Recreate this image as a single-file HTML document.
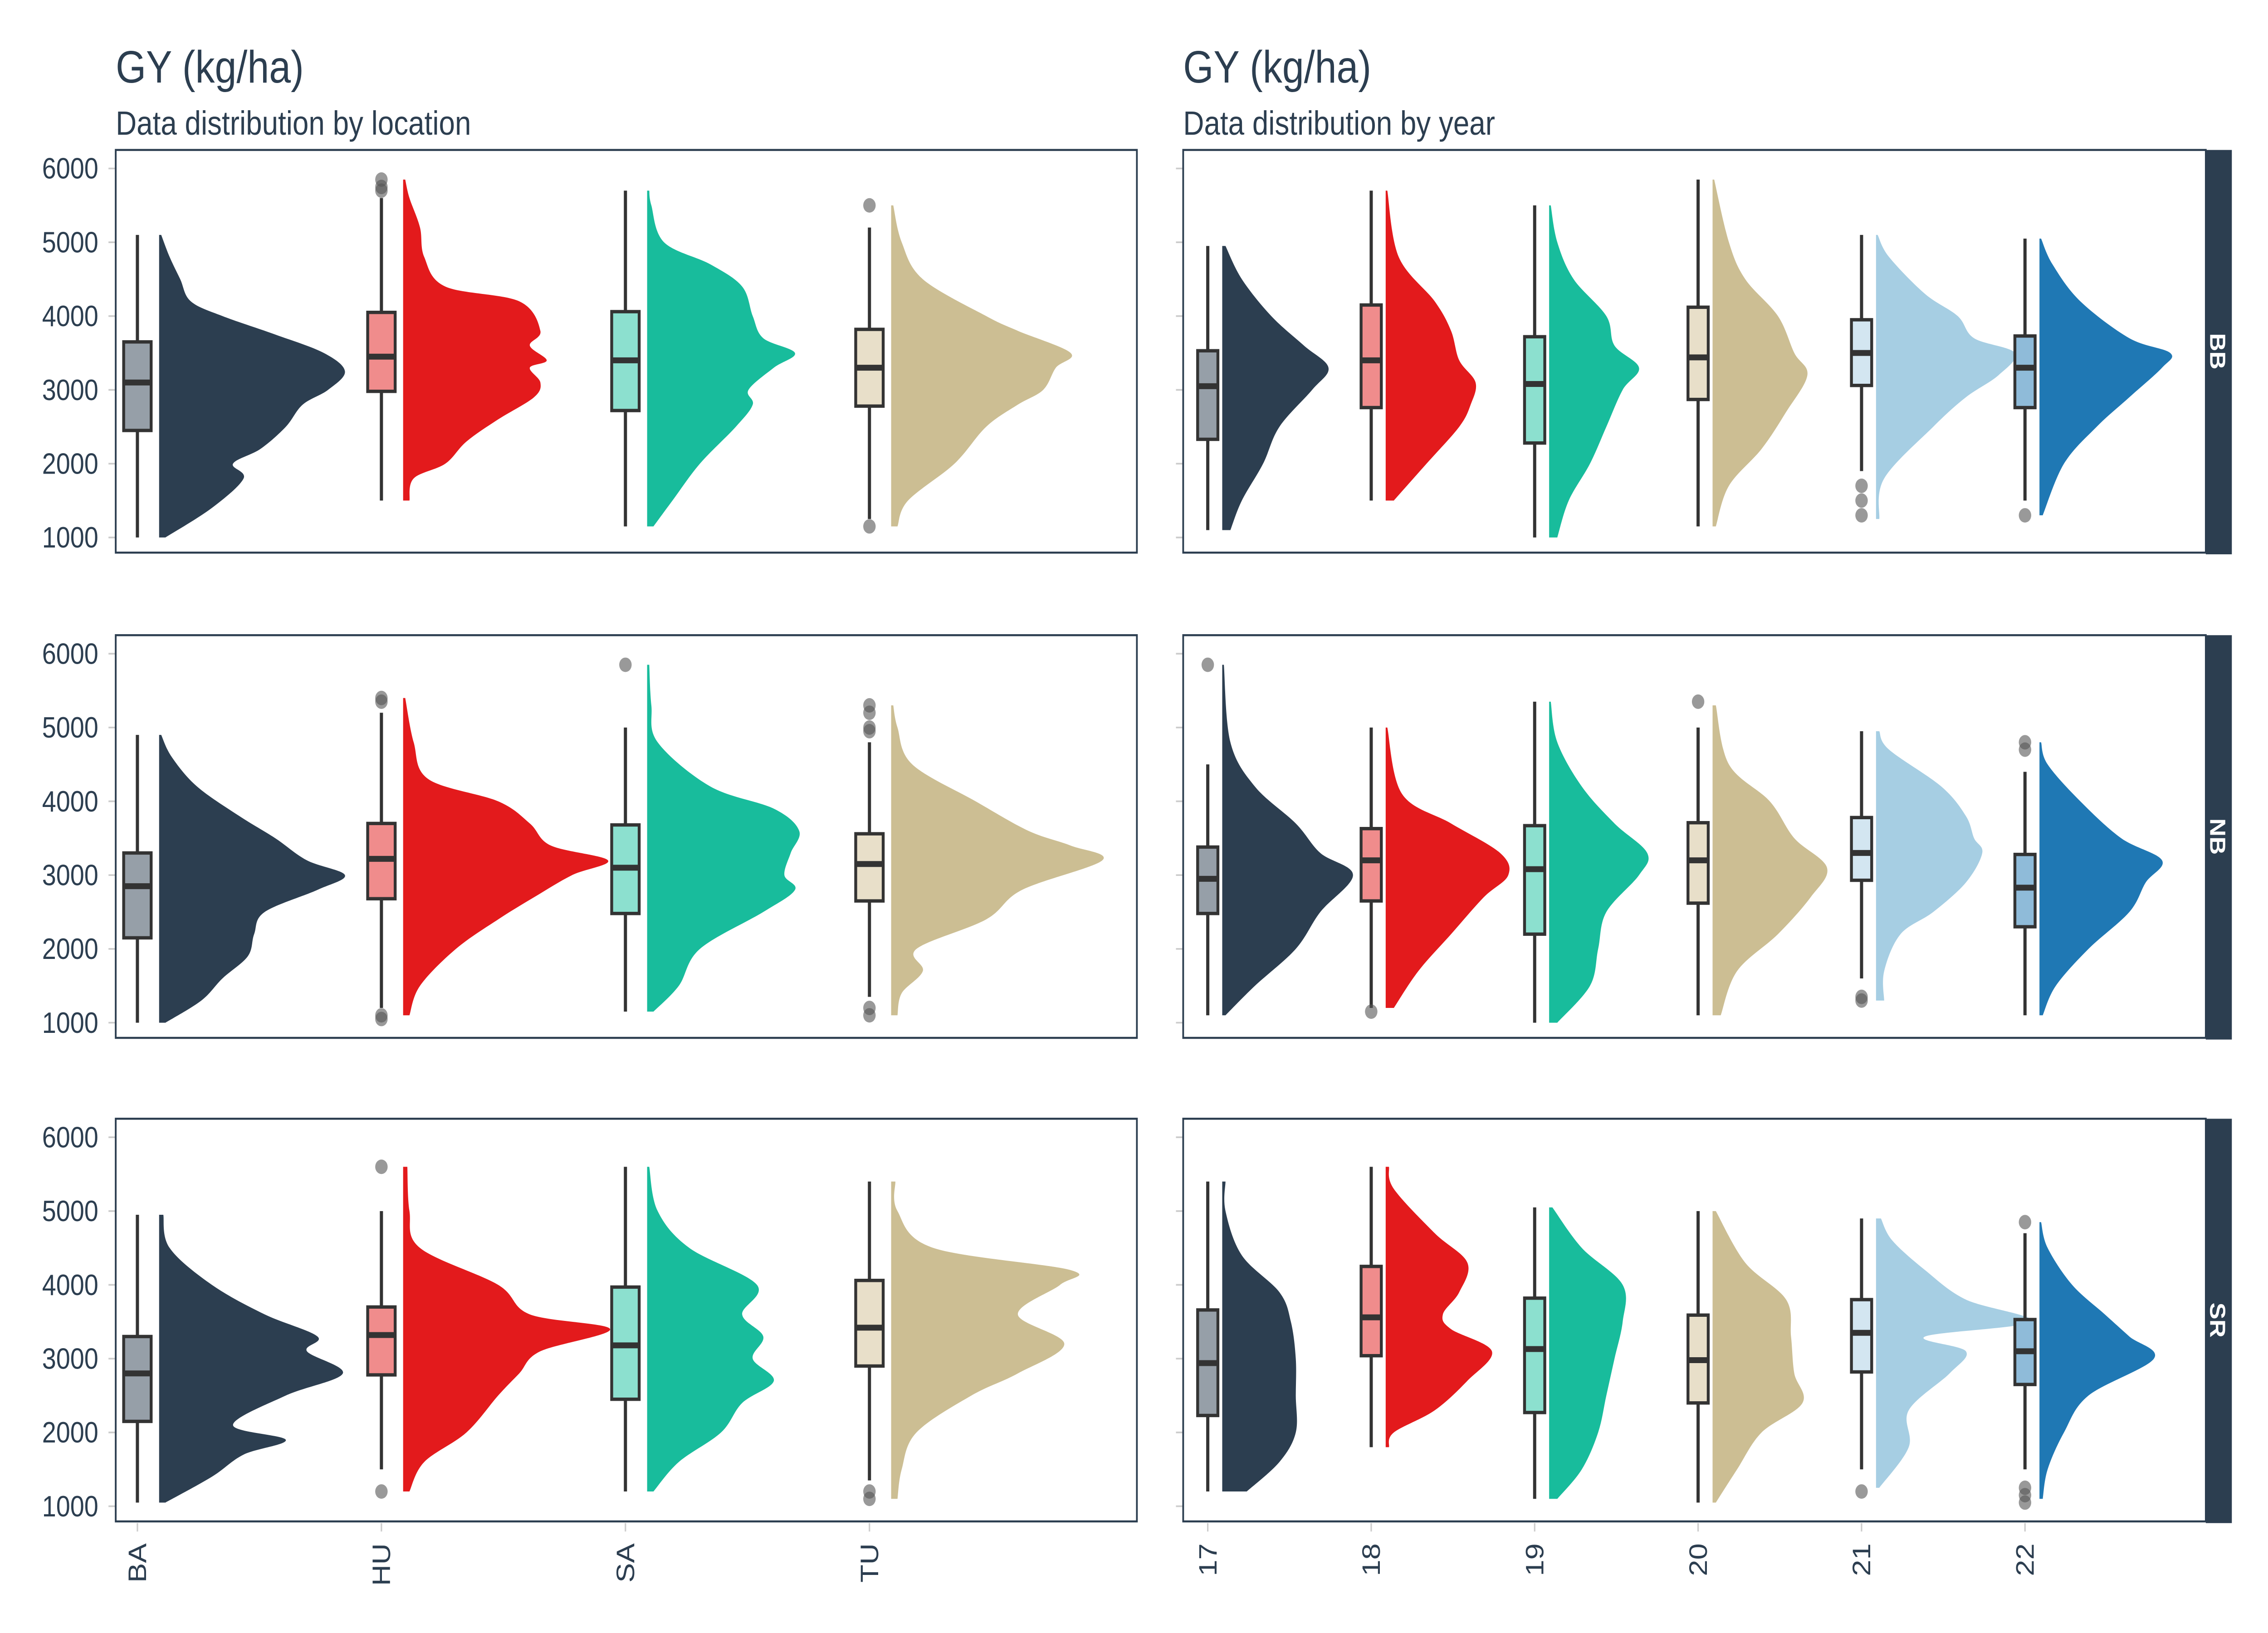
<!DOCTYPE html>
<html><head><meta charset="utf-8"><style>
html,body{margin:0;padding:0;background:#fff;width:100%;height:100%;overflow:hidden;}
svg{display:block;position:absolute;left:0;top:0;width:100vw;height:100vh;}
text{font-family:"Liberation Sans",sans-serif;fill:#2c3e50;}
</style></head><body>
<svg id="chart" viewBox="0 0 1568 969.23" preserveAspectRatio="none" xmlns="http://www.w3.org/2000/svg">
<text x="80" y="49" font-size="27">GY (kg/ha)</text>
<text x="80" y="80" font-size="20">Data distribution by location</text>
<text x="818" y="49" font-size="27">GY (kg/ha)</text>
<text x="818" y="80" font-size="20">Data distribution by year</text>
<g id="plots"></g>
</svg>
<script>
const locations = ["BA","HU","SA","TU"];
const years = ["17","18","19","20","21","22"];
const sites = ["BB","NB","SR"];
const yTicks = [1000,2000,3000,4000,5000,6000];
// stats per violin: [whiskerLow, q1, median, q3, whiskerHigh]
const locStats = [
 [[1000,2450,3100,3650,5100],[1500,2980,3450,4050,5600],[1150,2720,3400,4060,5700],[1250,2780,3300,3820,5200]],
 [[1000,2150,2850,3300,4900],[1200,2680,3220,3700,5200],[1150,2480,3100,3680,5000],[1350,2650,3150,3560,4800]],
 [[1050,2150,2800,3300,4950],[1500,2780,3320,3700,5000],[1200,2450,3180,3970,5600],[1350,2900,3420,4060,5400]]
];
const locOutliers = [
 [[],[5850,5750,5700],[],[5500,1150]],
 [[],[5400,5350,1100,1050],[5850],[5300,5200,5000,4950,1200,1100]],
 [[],[5600,1200],[],[1200,1100]]
];
const locDens = [
 [
  [[1000,.03],[1400,.25],[1800,.4],[2000,.35],[2200,.48],[2500,.6],[2800,.68],[3000,.8],[3250,.88],[3500,.78],[3750,.55],[4000,.3],[4200,.15],[4500,.1],[4800,.05],[5100,.01]],
  [[1500,.03],[1800,.05],[2000,.2],[2300,.3],[2600,.45],[2900,.62],[3100,.65],[3300,.6],[3400,.68],[3600,.6],[3800,.65],[4200,.55],[4400,.2],[4800,.1],[5200,.08],[5600,.03],[5850,.01]],
  [[1150,.03],[1500,.12],[2000,.25],[2500,.42],[2800,.5],[3000,.48],[3300,.6],[3500,.7],[3700,.55],[4000,.5],[4400,.45],[4700,.3],[5000,.08],[5500,.02],[5700,.01]],
  [[1150,.03],[1500,.08],[2000,.3],[2500,.45],[2800,.6],[3000,.72],[3300,.78],[3500,.85],[3800,.6],[4000,.45],[4500,.15],[5000,.05],[5500,.01]]
 ],[
  [[1000,.03],[1300,.2],[1600,.3],[1900,.42],[2200,.45],[2500,.5],[2800,.75],[3000,.88],[3200,.7],[3500,.55],[3800,.38],[4200,.18],[4600,.06],[4900,.01]],
  [[1100,.03],[1500,.08],[2000,.25],[2400,.45],[2700,.62],[3000,.8],[3200,.97],[3400,.7],[3700,.6],[4000,.45],[4300,.12],[4800,.05],[5400,.01]],
  [[1150,.03],[1500,.15],[2000,.25],[2500,.55],[2800,.7],[3000,.65],[3300,.68],[3600,.72],[3900,.6],[4200,.3],[4800,.05],[5300,.02],[5850,.01]],
  [[1100,.03],[1400,.05],[1700,.15],[2000,.12],[2400,.45],[2800,.62],[3200,1.0],[3400,.85],[3600,.65],[4000,.4],[4500,.1],[5000,.03],[5300,.01]]
 ],[
  [[1050,.03],[1400,.25],[1700,.4],[1900,.6],[2100,.35],[2500,.6],[2800,.87],[3100,.7],[3300,.75],[3600,.5],[4000,.25],[4500,.05],[4950,.02]],
  [[1200,.03],[1600,.1],[2000,.3],[2500,.45],[2800,.55],[3100,.65],[3400,.98],[3600,.6],[4000,.45],[4500,.08],[5000,.03],[5600,.02]],
  [[1200,.03],[1600,.15],[2000,.35],[2400,.45],[2700,.6],[3000,.5],[3300,.55],[3600,.45],[4000,.52],[4500,.2],[5000,.05],[5600,.01]],
  [[1100,.03],[1500,.05],[2000,.12],[2500,.38],[2800,.6],[3200,.82],[3600,.6],[4000,.8],[4200,.85],[4500,.2],[5000,.03],[5400,.02]]
 ]
];
const yrStats = [
 [[1100,2330,3050,3530,4950],[1500,2760,3400,4150,5700],[1000,2280,3080,3720,5500],[1150,2870,3440,4120,5850],[1900,3060,3500,3950,5100],[1500,2760,3300,3730,5050]],
 [[1100,2480,2950,3380,4500],[1200,2650,3200,3630,5000],[1000,2200,3080,3670,5350],[1100,2620,3200,3710,5000],[1600,2930,3300,3780,4950],[1100,2300,2830,3280,4400]],
 [[1200,2230,2940,3660,5400],[1800,3040,3560,4250,5600],[1100,2270,3130,3820,5050],[1050,2400,2980,3590,5000],[1500,2820,3350,3800,4900],[1500,2650,3100,3530,4700]]
];
const yrOutliers = [
 [[],[],[],[],[1700,1500,1300],[1300]],
 [[5850],[1150],[],[5350],[1350,1300],[4800,4700]],
 [[],[],[],[],[1200],[4850,1250,1150,1050]]
];
const yrDens = [
 [
  [[1100,.05],[1500,.12],[2000,.25],[2500,.35],[3000,.55],[3300,.65],[3600,.5],[4000,.3],[4500,.12],[4950,.02]],
  [[1500,.05],[2000,.25],[2500,.45],[2800,.52],[3100,.55],[3400,.45],[3800,.4],[4200,.3],[4800,.08],[5700,.01]],
  [[1000,.05],[1500,.12],[2000,.25],[2500,.35],[3000,.45],[3300,.55],[3600,.4],[4000,.35],[4500,.15],[5000,.05],[5500,.01]],
  [[1150,.02],[1700,.1],[2200,.3],[2700,.45],[3200,.58],[3500,.5],[4000,.4],[4500,.2],[5000,.1],[5850,.01]],
  [[1250,.02],[1800,.05],[2500,.35],[2900,.55],[3200,.75],[3500,.85],[3700,.6],[4000,.5],[4300,.3],[4800,.08],[5100,.01]],
  [[1300,.02],[2000,.15],[2500,.35],[2900,.55],[3300,.75],[3500,.8],[3700,.55],[4200,.25],[4700,.08],[5050,.01]]
 ],[
  [[1100,.02],[1500,.2],[2000,.45],[2500,.6],[3000,.8],[3300,.6],[3700,.45],[4200,.2],[4800,.05],[5850,.01]],
  [[1200,.05],[1700,.2],[2200,.4],[2700,.6],[3000,.75],[3300,.7],[3700,.4],[4100,.1],[5000,.01]],
  [[1000,.05],[1500,.25],[2000,.3],[2500,.35],[3000,.55],[3300,.6],[3700,.4],[4200,.2],[4800,.05],[5350,.01]],
  [[1100,.05],[1700,.15],[2200,.4],[2700,.6],[3100,.7],[3500,.5],[4000,.35],[4500,.1],[5300,.02]],
  [[1300,.05],[1700,.05],[2200,.15],[2500,.35],[2900,.55],[3300,.65],[3500,.6],[3800,.55],[4200,.4],[4700,.08],[4950,.02]],
  [[1100,.02],[1500,.1],[2000,.3],[2500,.55],[2900,.65],[3200,.75],[3500,.5],[4000,.25],[4500,.05],[4800,.01]]
 ],[
  [[1200,.15],[1600,.35],[2000,.45],[2500,.45],[3000,.45],[3500,.42],[3900,.35],[4400,.12],[5000,.02],[5400,.02]],
  [[1800,.02],[2000,.05],[2300,.3],[2700,.5],[3100,.65],[3400,.4],[3600,.35],[3900,.45],[4300,.5],[4700,.3],[5300,.05],[5600,.02]],
  [[1100,.05],[1500,.2],[2000,.3],[2500,.35],[3000,.4],[3500,.45],[4000,.45],[4500,.2],[5050,.02]],
  [[1050,.02],[1500,.15],[2000,.3],[2400,.55],[2800,.5],[3300,.48],[3800,.45],[4300,.2],[5000,.02]],
  [[1250,.02],[1800,.2],[2300,.2],[2800,.45],[3100,.55],[3300,.3],[3500,.95],[3800,.55],[4200,.3],[4600,.1],[4900,.03]],
  [[1100,.02],[1500,.05],[2000,.15],[2500,.3],[3000,.7],[3300,.55],[3600,.4],[4000,.2],[4500,.05],[4850,.01]]
 ]
];
const locColors=["#2c3e50","#e31a1c","#18bc9c","#ccbe93"];
const locBox=["#969fa8","#f08c8c","#8ce0cf","#e8dfc9"];
const yrColors=["#2c3e50","#e31a1c","#18bc9c","#ccbe93","#a6cee3","#1f78b4"];
const yrBox=["#969fa8","#f08c8c","#8ce0cf","#e8dfc9","#d3e6f1","#8fbbd9"];

const NS="http://www.w3.org/2000/svg";
const g=document.getElementById('plots');
function el(tag,attrs,parent){const e=document.createElementNS(NS,tag);for(const k in attrs)e.setAttribute(k,attrs[k]);(parent||g).appendChild(e);return e;}
const rowTop=[89,377,664];
const panelH=239;
function yScale(r){const y6=rowTop[r]+11, y1=rowTop[r]+230;return v=>y1-(v-1000)*(y1-y6)/5000;}
function smoothPath(pts){
  let d=`M${pts[0][0]},${pts[0][1]}`;
  for(let i=0;i<pts.length-1;i++){
    const p0=pts[Math.max(0,i-1)],p1=pts[i],p2=pts[i+1],p3=pts[Math.min(pts.length-1,i+2)];
    const c1=[p1[0]+(p2[0]-p0[0])/6,p1[1]+(p2[1]-p0[1])/6];
    const c2=[p2[0]-(p3[0]-p1[0])/6,p2[1]-(p3[1]-p1[1])/6];
    d+=` C${c1[0]},${c1[1]} ${c2[0]},${c2[1]} ${p2[0]},${p2[1]}`;
  }
  return d;
}
function drawPanel(r,side){
  const left=side==='loc'?80:818, right=side==='loc'?786:1525;
  const cats=side==='loc'?locations:years;
  const x0=side==='loc'?95:835, step=side==='loc'?168.7:113;
  const off=side==='loc'?15:10, scale=side==='loc'?146:113;
  const stats=side==='loc'?locStats[r]:yrStats[r];
  const outs=side==='loc'?locOutliers[r]:yrOutliers[r];
  const dens=side==='loc'?locDens[r]:yrDens[r];
  const cols=side==='loc'?locColors:yrColors, bcols=side==='loc'?locBox:yrBox;
  const y=yScale(r);
  const top=rowTop[r];
  const pg=el('g',{});
  
  
  yTicks.forEach(t=>{
    const tl=el('line',{x1:left-5,x2:left,y1:y(t),y2:y(t),stroke:'#cccccc','stroke-width':1},pg);
    
    
    if(side==='loc'){
      const tx=el('text',{x:68,y:y(t)+6,'font-size':17.5,'text-anchor':'end'},pg);
      tx.textContent=t;
      
      
    }
  });
  cats.forEach((c,i)=>{
    const cx=x0+i*step;
    const vx=cx+off;
    const d=dens[i];
    const pts=d.map(p=>[vx+p[1]*scale,y(p[0])]);
    const path=`M${vx},${y(d[0][0])} L${pts[0][0]},${pts[0][1]} `+smoothPath(pts).replace(/^M[^C]*/,'')+` L${vx},${y(d[d.length-1][0])} Z`;
    const v=el('path',{d:path,fill:cols[i]},pg);
    
    
    const s=stats[i];
    const w=el('line',{x1:cx,x2:cx,y1:y(s[0]),y2:y(s[4]),stroke:'#333333','stroke-width':2.2},pg);
    
    
    const bw=side==='loc'?19:14;
    const b=el('rect',{x:cx-bw/2,y:y(s[3]),width:bw,height:y(s[1])-y(s[3]),fill:bcols[i],stroke:'#333333','stroke-width':2},pg);
    
    
    const m=el('line',{x1:cx-bw/2,x2:cx+bw/2,y1:y(s[2]),y2:y(s[2]),stroke:'#333333','stroke-width':3.5},pg);
    
    
    outs[i].forEach(o=>{
      const pt=el('circle',{cx:cx,cy:y(o),r:4.3,fill:'#555555','fill-opacity':0.6},pg);
      
      
    });
    if(r===2){
      const tk=el('line',{x1:cx,x2:cx,y1:904,y2:909,stroke:'#cccccc','stroke-width':1},pg);
      
      
      const lt=el('text',{x:0,y:0,'font-size':17.5,'text-anchor':'end',transform:`translate(${cx+6},916) rotate(-90)`},pg);
      lt.textContent=c;
      
      
    }
  });
  const fr=el('rect',{x:left,y:top,width:right-left,height:panelH,fill:'none',stroke:'#2c3e50','stroke-width':1.2},pg);
  
  
  if(side==='yr'){
    const st=el('rect',{x:1525,y:top,width:18,height:panelH+1,fill:'#2c3e50'},pg);
    
    
    const sx=el('text',{x:0,y:0,'font-size':15,'font-weight':'bold','text-anchor':'middle',fill:'#ffffff',style:'fill:#ffffff',transform:`translate(1528,${top+panelH/2}) rotate(90)`},pg);
    sx.textContent=sites[r];
    
    
  }
}
for(let r=0;r<3;r++){drawPanel(r,'loc');drawPanel(r,'yr');}
</script>
</body></html>
